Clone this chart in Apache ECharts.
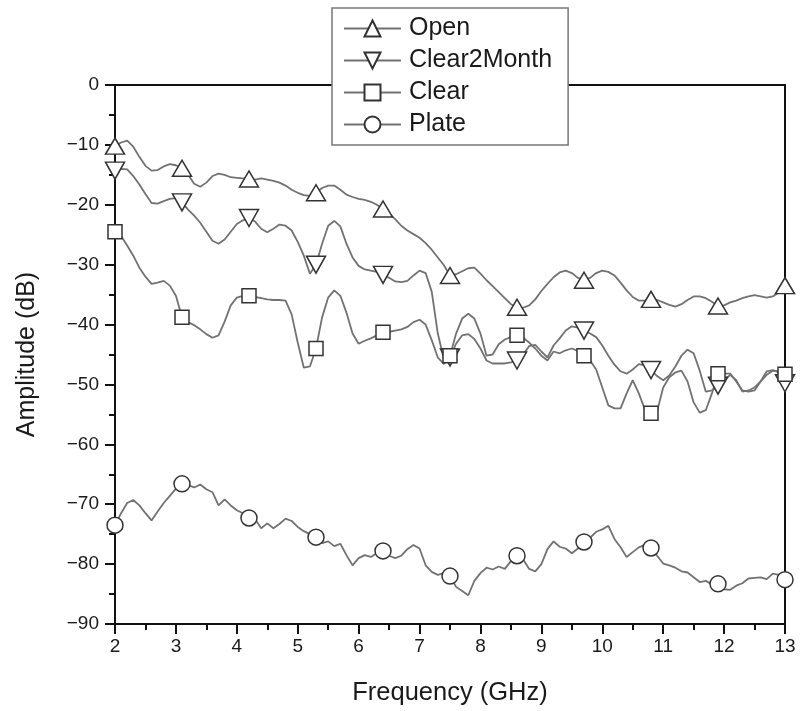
<!DOCTYPE html>
<html>
<head>
<meta charset="utf-8">
<script src="https://cdn.jsdelivr.net/npm/echarts@6/dist/echarts.min.js"></script>
<style>html,body{margin:0;padding:0;background:#fff}#c{width:805px;height:711px}</style>
</head>
<body>
<div id="c"></div>
<script>
// Frequency grid (GHz), 2.0 .. 13.0 in 0.1 steps
const freqStart = 2.0;
const freqStep = 0.1;
const xTicks = [2,3,4,5,6,7,8,9,10,11,12,13];
const yTicks = [0,-10,-20,-30,-40,-50,-60,-70,-80,-90];

const seriesNames = ['Open','Clear2Month','Clear','Plate'];

const openVals = [-10.2,-9.6,-9.3,-10.3,-12,-13.5,-14.3,-14.2,-13.6,-13.2,
-13.4,-13.9,-15,-16.5,-17,-16.3,-15.2,-14.8,-15,-15.4,
-15.5,-15.6,-15.7,-15.8,-15.6,-15.8,-16,-16.3,-16.8,-17.5,
-18,-18.4,-18.5,-18,-17.2,-16.8,-16.8,-17.5,-18.3,-18.7,
-19,-19.2,-19.5,-20,-20.7,-21.5,-22.4,-23.5,-24.3,-24.9,
-25.5,-26.4,-27.5,-28.8,-30.1,-31.8,-31.6,-31.1,-30.6,-30.5,
-31.5,-32.6,-33.6,-34.6,-35.6,-36.6,-37.1,-37.2,-36.8,-35.8,
-34.4,-33.2,-32.1,-31.3,-31,-31.4,-32.2,-32.6,-32.2,-31.4,
-31,-31.2,-31.8,-33,-34.3,-35.4,-36,-36,-35.8,-35.9,
-36.3,-36.7,-37,-36.6,-35.9,-35.3,-35.3,-35.6,-36.2,-36.9,
-36.8,-36.3,-36,-35.6,-35.3,-35.1,-35.3,-35.5,-35.3,-34.6,
-33.5];

const clear2MonthVals = [-14.3,-14,-14.1,-15.2,-16.6,-18.2,-19.7,-19.8,-19.4,-19,
-18.9,-19.6,-20.8,-21.8,-23,-24.5,-26,-26.5,-25.8,-24.5,
-23.2,-22.6,-22.2,-22.8,-24,-24.6,-24,-23.3,-23.5,-24.3,
-26.2,-28.5,-31.5,-30,-26.5,-23.5,-22.7,-23.6,-26.5,-28.8,
-30.2,-30.8,-31,-31.2,-31.7,-32.2,-32.8,-32.9,-32.7,-31.8,
-31,-31.4,-34.5,-41.5,-45.8,-45.5,-43.2,-41.8,-41.6,-42.4,
-44,-46,-46.5,-46.5,-46.5,-46.3,-46,-45,-43.6,-43.4,
-44.5,-45.5,-43.5,-42.3,-41,-40.3,-40.5,-41,-41.5,-42.1,
-43.5,-45.2,-46.7,-47.8,-48.2,-47.5,-46.6,-46.8,-47.6,-48.6,
-49.3,-48.5,-47,-45.2,-44.2,-44.8,-47.7,-51.2,-51,-50.2,
-49.3,-48.4,-49.3,-51.2,-51,-50.5,-49.5,-47.8,-47.6,-48,
-49.8];

const clearVals = [-24.5,-25.2,-26.8,-28.5,-30.5,-32,-33.2,-33,-32.7,-33.5,
-35.2,-38.8,-39.6,-40.1,-40.8,-41.6,-42.2,-41.8,-39.5,-36.8,
-35.5,-35.2,-35.2,-35.4,-35.6,-35.8,-35.9,-35.9,-36,-38.3,
-43,-47.2,-47,-44,-38.8,-35.5,-34.3,-35.2,-38,-41.5,
-43.2,-42.7,-42.3,-41.8,-41.3,-41.2,-41,-40.8,-40.4,-39.6,
-39.2,-40,-42.6,-45.5,-46.6,-45.2,-41.5,-39,-38.2,-39,
-41.5,-45.2,-45,-43.3,-42.5,-42.1,-41.8,-42.2,-43,-44,
-45.2,-46,-44.5,-44.8,-44.3,-44,-44.4,-45.2,-46,-47.5,
-50.5,-53.5,-54,-54,-51.5,-49.3,-51.5,-54.2,-54.8,-54.5,
-50.5,-48.8,-48,-47.7,-49.5,-53,-54.7,-54.3,-51.5,-48.2,
-48.2,-48.2,-49.5,-51,-51.2,-51,-49.5,-48.4,-47.7,-47.8,
-48.3];

const plateVals = [-73.5,-71.5,-69.8,-69.3,-70.2,-71.5,-72.7,-71.2,-69.8,-68.6,
-67.4,-66.6,-66.8,-67.2,-66.7,-67.5,-68,-70.2,-69.2,-70.2,
-71,-71.5,-72.3,-72.5,-74,-73.2,-74,-73.3,-72.4,-72.8,
-73.8,-74.5,-75,-75.5,-76.5,-76.2,-77,-76.6,-78.5,-80.2,
-79,-78.5,-78.8,-78.2,-77.8,-78.6,-79,-78.6,-77.5,-76.8,
-77.4,-80.2,-81.3,-81.8,-81.5,-82,-83.8,-84.5,-85.2,-82.8,
-81.5,-80.6,-80.9,-80.4,-80.8,-79.5,-78.6,-79.2,-80.8,-81.2,
-80,-77.5,-76.2,-77.1,-77.4,-78.2,-77.4,-76.3,-75.6,-74.6,
-74.2,-73.6,-75.8,-77.2,-78.8,-78,-77.2,-76.8,-77.3,-78.6,
-79.9,-80.2,-80.6,-81.2,-81.4,-82.2,-83,-82.8,-83.4,-83.3,
-84.2,-84.3,-83.6,-83.2,-82.4,-82.3,-82.2,-82.5,-81.6,-81.8,
-82.6];

const markerEvery = 11;

function toPairs(vals){
  return vals.map((v,i)=>[+(freqStart + i*freqStep).toFixed(2), v]);
}

const symbols = ['triangle','path://M0,0L20,0L10,17Z','rect','circle'];
const sizes = [[19,16],[19,17],[14,14],[16,16]];
const allVals = [openVals, clear2MonthVals, clearVals, plateVals];

const series = seriesNames.map((name,k)=>({
  name: name,
  type: 'line',
  data: toPairs(allVals[k]),
  symbol: symbols[k],
  symbolSize: function(val, params){ return params.dataIndex % markerEvery === 0 ? sizes[k] : 0; },
  showSymbol: true,
  showAllSymbol: true,
  symbolKeepAspect: false,
  clip: false,
  lineStyle: {color:'#727272', width:1.8},
  itemStyle: {color:'#ffffff', borderColor:'#333333', borderWidth:1.5},
  emphasis: {disabled:true},
  z: 3
}));

const fmtMinus = v => String(v).replace('-', '\u2212');

const chart = echarts.init(document.getElementById('c'));
chart.setOption({
  animation: false,
  backgroundColor: '#ffffff',
  textStyle: {fontFamily: 'Liberation Sans, Arial, sans-serif'},
  grid: {left:115, right:20, top:85, bottom:87, containLabel:false},
  legend: {
    data: seriesNames,
    orient: 'vertical',
    left: 332, top: 8,
    padding: [8, 16, 8, 11],
    itemWidth: 57, itemHeight: 20, itemGap: 7,
    backgroundColor: '#ffffff',
    borderColor: '#777777', borderWidth: 1.5,
    textStyle: {fontSize: 25, color:'#1a1a1a', fontFamily:'Liberation Sans, Arial, sans-serif', padding:[0,0,0,3]},
    z: 10
  },
  xAxis: [{
    type:'value', min:2, max:13, interval:1,
    name:'Frequency (GHz)', nameLocation:'middle', nameGap:56,
    nameTextStyle:{fontSize:25.5, color:'#1a1a1a'},
    axisLine:{show:true, onZero:false, lineStyle:{color:'#111', width:2}},
    axisTick:{show:true, inside:false, length:10, lineStyle:{color:'#111', width:2}},
    minorTick:{show:true, splitNumber:2, length:6, lineStyle:{color:'#111', width:2}},
    axisLabel:{fontSize:19, color:'#1a1a1a', margin:13, customValues: xTicks},
    splitLine:{show:false}
  },{
    type:'value', min:2, max:13, position:'top',
    axisLine:{show:true, onZero:false, lineStyle:{color:'#111', width:2}},
    axisTick:{show:false}, axisLabel:{show:false}, splitLine:{show:false}
  }],
  yAxis: [{
    type:'value', min:-90, max:0, interval:10,
    name:'Amplitude (dB)', nameLocation:'middle', nameGap:75,
    nameTextStyle:{fontSize:25, color:'#1a1a1a'},
    axisLine:{show:true, onZero:false, lineStyle:{color:'#111', width:2}},
    axisTick:{show:true, inside:false, length:10, lineStyle:{color:'#111', width:2}},
    minorTick:{show:true, splitNumber:2, length:6, lineStyle:{color:'#111', width:2}},
    axisLabel:{fontSize:19, color:'#1a1a1a', margin:16, formatter: fmtMinus, customValues: yTicks},
    splitLine:{show:false}
  },{
    type:'value', min:-90, max:0, position:'right',
    axisLine:{show:true, onZero:false, lineStyle:{color:'#111', width:2}},
    axisTick:{show:false}, axisLabel:{show:false}, splitLine:{show:false}
  }],
  series: series
});
</script>
</body>
</html>
